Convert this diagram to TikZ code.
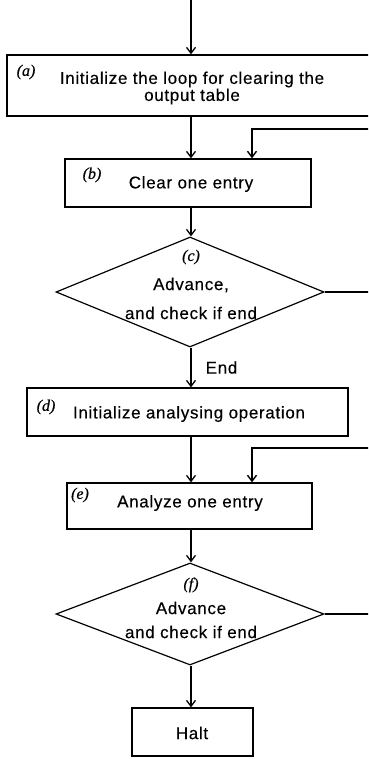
\documentclass[tikz,border=0pt]{standalone}
\usepackage{fontspec}
\setmainfont{Liberation Sans}[LetterSpace=4,FakeBold=0.3]
\newfontfamily\tagfont{Liberation Serif}[FakeBold=0.6]
\usetikzlibrary{arrows.meta,shapes.geometric}

\newcommand{\bodyfont}{\fontsize{17}{17}\selectfont}
\newcommand{\tagtext}[1]{{\tagfont\itshape\fontsize{16}{17}\selectfont #1}}

\begin{document}
\begin{tikzpicture}[x=1pt,y=-1pt,
  box/.style={draw,line width=1.2pt,inner sep=0pt,rectangle},
  decision/.style={draw,line width=1.2pt,inner sep=0pt,diamond},
  txt/.style={inner sep=0pt,font=\bodyfont,align=center},
  tag/.style={inner sep=0pt},
  flow/.style={line width=1.4pt,-{Straight Barb[length=6pt,width=9pt,line width=1.3pt]}},
  back/.style={line width=2.2pt},
  backarr/.style={line width=2.2pt,-{Straight Barb[length=6pt,width=9pt,line width=1.4pt]}}
]
\useasboundingbox (0,0) rectangle (368,759);
\clip (0,0) rectangle (368,759);

% main vertical axis and the two return columns
\coordinate (axis) at (191,0);
\coordinate (top) at (191,0);
\coordinate (ret) at (252,0);
\coordinate (edge1) at (380,129);
\coordinate (edge2) at (380,448);

% boxes and decisions
\node[box,minimum width=370pt,minimum height=61pt] (a) at (192,85.5) {};
\node[txt] (at) at (192,88) {Initialize the loop for clearing the\\output table};
\node[tag] (ta) at (26,72) {\tagtext{(a)}};

\node[box,minimum width=246pt,minimum height=48pt] (b) at (188,183) {};
\node[txt] (bt) at (191,184) {Clear one entry};
\node[tag] (tb) at (92,175) {\tagtext{(b)}};

\node[decision,minimum width=268pt,minimum height=110pt] (c) at (190,292) {};
\node[tag] (tc) at (191,257) {\tagtext{(c)}};
\node[txt] (c1) at (191,285) {Advance,};
\node[txt] (c2) at (191,313) {and check if end};

\node[box,minimum width=321pt,minimum height=48pt] (d) at (187.5,412) {};
\node[txt] (dt) at (189,414) {Initialize analysing operation};
\node[tag] (td) at (46,407) {\tagtext{(d)}};

\node[box,minimum width=245pt,minimum height=46pt] (e) at (189.5,506) {};
\node[txt] (et) at (190,503) {Analyze one entry};
\node[tag] (te) at (80,495) {\tagtext{(e)}};

\node[decision,minimum width=268pt,minimum height=102pt] (f) at (190,614) {};
\node[tag] (tf) at (191,585) {\tagtext{(f)}};
\node[txt] (f1) at (191,608) {Advance};
\node[txt] (f2) at (191,632) {and check if end};

\node[box,minimum width=121pt,minimum height=48pt] (h) at (192.5,732) {};
\node[txt] (ht) at (192,733) {Halt};

% straight-down flow
\draw[flow] (top) -- (a.north -| axis);
\draw[flow] (a.south -| axis) -- (b.north -| axis);
\draw[flow] (b.south -| axis) -- (c.north -| axis);
\draw[flow] (c.south -| axis) -- node[right=14pt,txt] (endlbl) {End} (d.north -| axis);
\draw[flow] (d.south -| axis) -- (e.north -| axis);
\draw[flow] (e.south -| axis) -- (f.north -| axis);
\draw[flow] (f.south -| axis) -- (h.north -| axis);

% loops back from the decisions
\draw[back] (c.east) -- (c.east -| edge1);
\draw[backarr] (edge1) -| (b.north -| ret);
\draw[back] (f.east) -- (f.east -| edge2);
\draw[backarr] (edge2) -| (e.north -| ret);
\end{tikzpicture}
\end{document}
